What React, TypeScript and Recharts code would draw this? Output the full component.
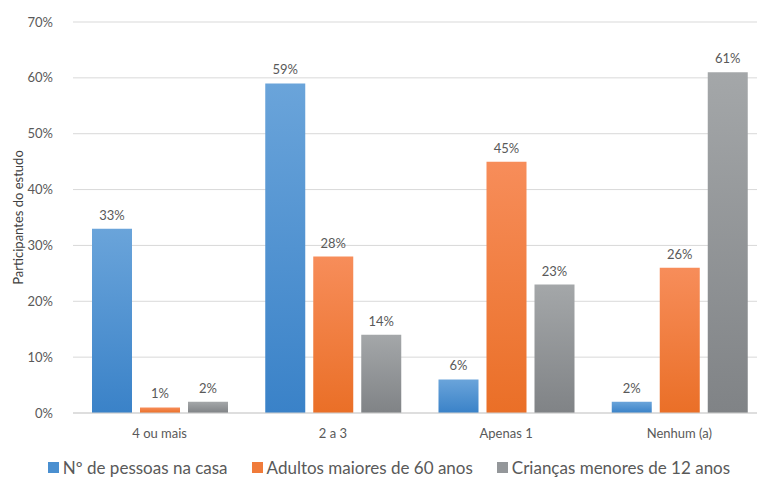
import React from "react";
import {
  BarChart,
  Bar,
  XAxis,
  YAxis,
  CartesianGrid,
  Legend,
  LabelList,
} from "recharts";

const categories = ["4 ou mais", "2 a 3", "Apenas 1", "Nenhum (a)"];
const pessoas = [33, 59, 6, 2];
const adultos = [1, 28, 45, 26];
const criancas = [2, 14, 23, 61];
const yTicks = [0, 10, 20, 30, 40, 50, 60, 70];

const seriesNames = ["Nº de pessoas na casa", "Adultos maiores de 60 anos", "Crianças menores de 12 anos"];
const seriesColors = ["#4a8fd0", "#f07b3a", "#94979a"];

const data = categories.map((name, i) => ({
  name,
  pessoas: pessoas[i],
  adultos: adultos[i],
  criancas: criancas[i],
}));

const FONT = "Lato, 'Open Sans', sans-serif";
const TEXT = "#595959";

const pct = (v: unknown) => `${v}%`;

function LegendBox() {
  return (
    <div
      style={{
        display: "flex",
        justifyContent: "center",
        gap: 24,
        fontSize: 17,
        fontFamily: FONT,
        color: TEXT,
        paddingTop: 10,
        marginLeft: 12,
      }}
    >
      {seriesNames.map((n, i) => (
        <div key={n} style={{ display: "flex", alignItems: "center" }}>
          <span style={{ width: 11, height: 11, background: seriesColors[i], display: "inline-block", marginRight: 4 }} />
          <span>{n}</span>
        </div>
      ))}
    </div>
  );
}

export default function App() {
  return (
    <div
      style={{
        position: "absolute",
        left: 0,
        top: 0,
        width: 757,
        height: 477,
        overflow: "hidden",
        background: "#fff",
        fontFamily: FONT,
      }}
    >
      <BarChart
        width={766}
        height={477}
        data={data}
        margin={{ top: 22, right: 0, bottom: 0, left: 0 }}
        barCategoryGap={18}
        barGap={8}
      >
        <defs>
          <linearGradient id="gBlue" x1="0" y1="0" x2="0" y2="1">
            <stop offset="0%" stopColor="#6aa4da" />
            <stop offset="100%" stopColor="#3a82c8" />
          </linearGradient>
          <linearGradient id="gOrange" x1="0" y1="0" x2="0" y2="1">
            <stop offset="0%" stopColor="#f78d5a" />
            <stop offset="100%" stopColor="#ea6f27" />
          </linearGradient>
          <linearGradient id="gGray" x1="0" y1="0" x2="0" y2="1">
            <stop offset="0%" stopColor="#a4a7a9" />
            <stop offset="100%" stopColor="#808386" />
          </linearGradient>
        </defs>
        <CartesianGrid vertical={false} stroke="#d9d9d9" />
        <XAxis
          dataKey="name"
          stroke="#d0d0d0"
          tickLine={false}
          tick={{ fontSize: 13, fill: TEXT, fontFamily: FONT }}
          tickMargin={10}
          height={34}
        />
        <YAxis
          domain={[0, 70]}
          ticks={yTicks}
          tickFormatter={pct}
          axisLine={false}
          tickLine={false}
          width={73}
          tick={{ fontSize: 13, fill: TEXT, fontFamily: FONT }}
          tickMargin={14}
          label={{
            value: "Participantes do estudo",
            angle: -90,
            position: "insideLeft",
            offset: 18,
            style: { textAnchor: "middle", fontSize: 13, fill: "#404040", fontFamily: FONT },
          }}
        />
        <Legend verticalAlign="bottom" height={30} content={() => <LegendBox />} />
        <Bar dataKey="pessoas" name={seriesNames[0]} fill="url(#gBlue)" barSize={40} isAnimationActive={false}>
          <LabelList dataKey="pessoas" position="top" offset={9} formatter={pct} style={{ fontSize: 13, fill: TEXT, fontFamily: FONT }} />
        </Bar>
        <Bar dataKey="adultos" name={seriesNames[1]} fill="url(#gOrange)" barSize={40} isAnimationActive={false}>
          <LabelList dataKey="adultos" position="top" offset={9} formatter={pct} style={{ fontSize: 13, fill: TEXT, fontFamily: FONT }} />
        </Bar>
        <Bar dataKey="criancas" name={seriesNames[2]} fill="url(#gGray)" barSize={40} isAnimationActive={false}>
          <LabelList dataKey="criancas" position="top" offset={9} formatter={pct} style={{ fontSize: 13, fill: TEXT, fontFamily: FONT }} />
        </Bar>
      </BarChart>
    </div>
  );
}
